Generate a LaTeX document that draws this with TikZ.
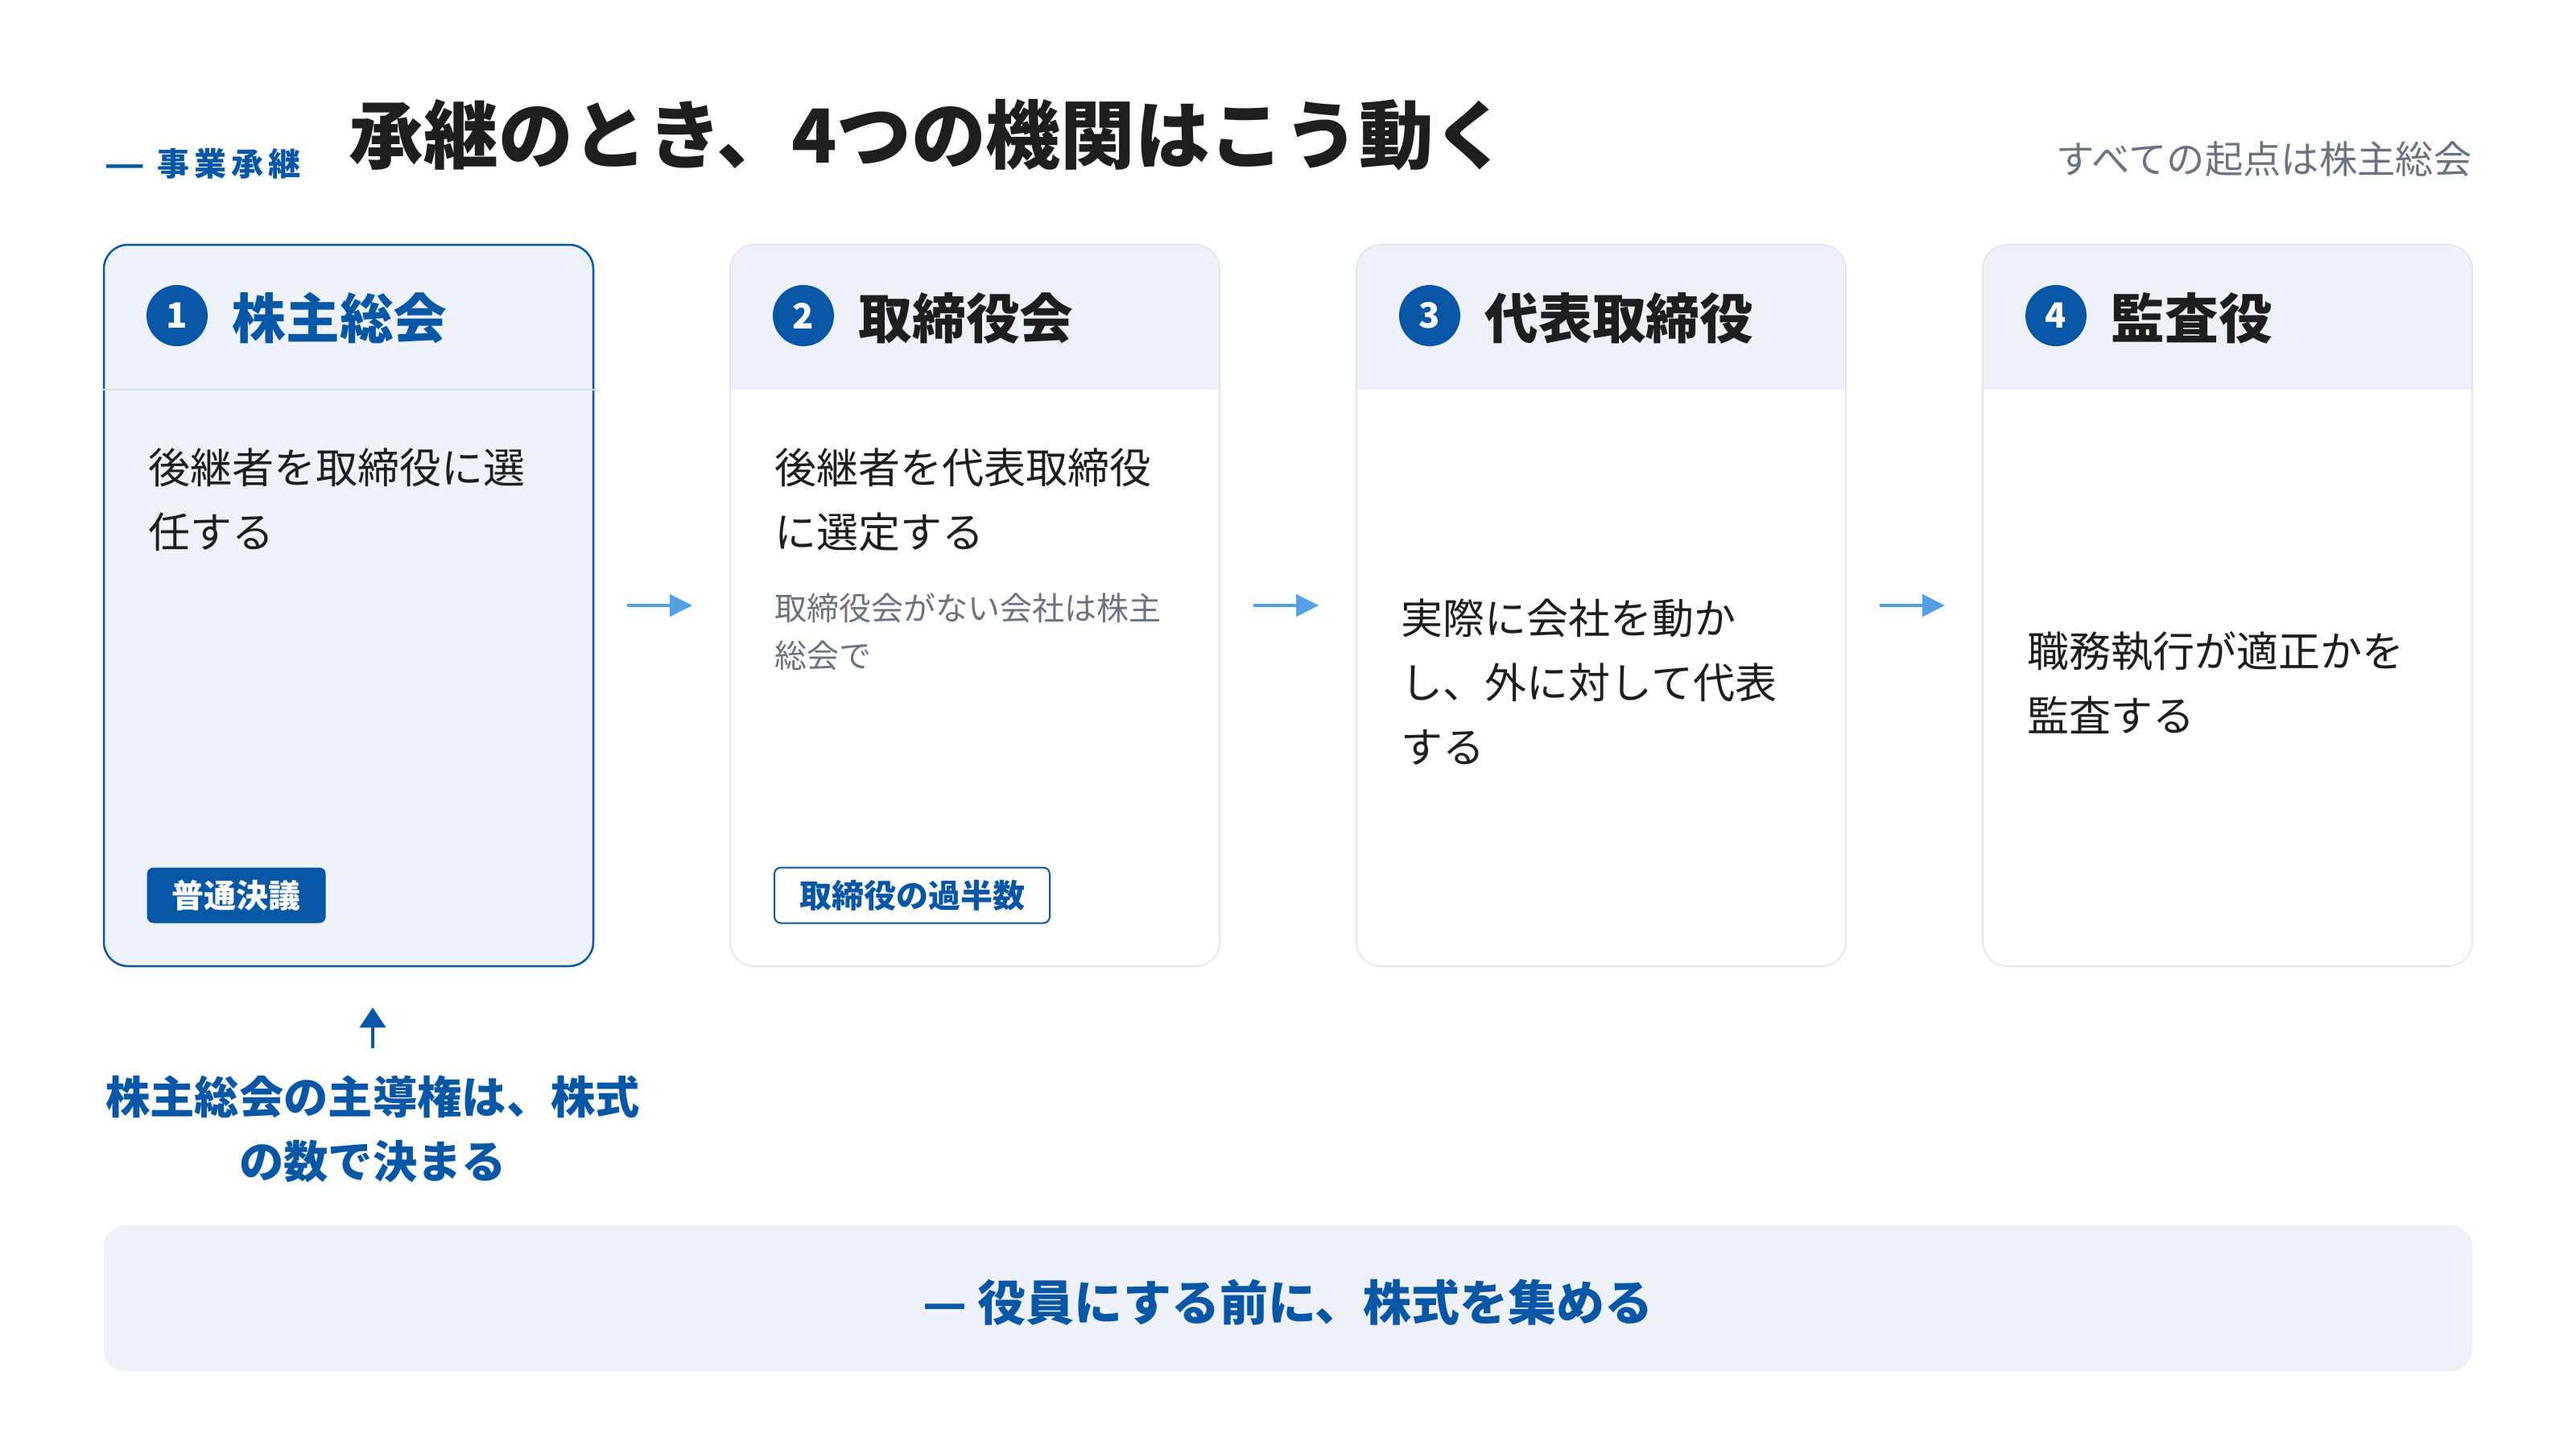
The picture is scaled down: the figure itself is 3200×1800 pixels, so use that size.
\documentclass[tikz,border=0pt]{standalone}
\usepackage{fontspec}
\usepackage{graphicx}
\setmainfont{Noto Sans CJK JP}
\usetikzlibrary{arrows.meta}
\definecolor{brand}{HTML}{0757A6}
\definecolor{lightarrow}{HTML}{559FE3}
\definecolor{ink}{HTML}{1E1E1E}
\definecolor{mute}{HTML}{6B7280}
\definecolor{headfill}{HTML}{EEF1F8}
\definecolor{card1fill}{HTML}{EEF2F9}
\definecolor{cardline}{HTML}{E3E5EA}
\definecolor{sepline}{HTML}{D6E0EE}
\tikzset{
  cardbase/.style={rectangle, rounded corners=9pt, minimum width=182.4pt, minimum height=268.8pt, inner sep=0pt},
  cardmain/.style={cardbase, draw=brand, line width=0.75pt, fill=card1fill},
  cardplain/.style={cardbase, draw=cardline, line width=0.5pt, fill=white,
    path picture={\fill[headfill, sharp corners] (path picture bounding box.north west) rectangle ([yshift=-54pt]path picture bounding box.north east);}},
  numdot/.style={circle, fill=brand, minimum size=22.8pt, inner sep=0pt, text=white, font=\fontsize{13}{13}\selectfont\bfseries},
  cardtitle/.style={anchor=base west, inner sep=0pt, font=\fontsize{20}{20}\selectfont\bfseries, text=ink},
  bodytext/.style={anchor=base west, inner sep=0pt, font=\fontsize{15.6}{15.6}\selectfont, text=ink},
  subtext/.style={anchor=base west, inner sep=0pt, font=\fontsize{12}{12}\selectfont, text=mute},
  tagfilled/.style={anchor=west, rectangle, rounded corners=2.4pt, fill=brand, text=white, minimum height=20.7pt, inner xsep=9.3pt, inner ysep=0pt, font=\fontsize{12}{12}\selectfont\bfseries},
  tagoutline/.style={anchor=west, rectangle, rounded corners=2.4pt, draw=brand, line width=0.6pt, fill=white, text=brand, minimum height=20.7pt, inner xsep=9.3pt, inner ysep=0pt, font=\fontsize{12}{12}\selectfont\bfseries},
  flow/.style={draw=lightarrow, line width=1.2pt, -{Triangle[length=8.4pt, width=8.1pt]}},
  uparrow/.style={draw=brand, line width=1.2pt, -{Triangle[length=7.5pt, width=9.6pt]}},
  notetext/.style={anchor=base, inner sep=0pt, font=\fontsize{16.6}{16.6}\selectfont\bfseries, text=brand},
}
\begin{document}
\begin{tikzpicture}[x=0.3pt, y=-0.3pt]
\useasboundingbox (0,0) rectangle (3200,1800);
\fill[white] (0,0) rectangle (3200,1800);

% header
\node[anchor=base west, inner sep=0pt, text=brand, font=\fontsize{12}{12}\selectfont\bfseries\addfontfeature{LetterSpace=15}] (kicker) at (129,218) {\scalebox{1.4}[1]{—}\hspace{4.5pt}事業承継};
\node[anchor=base west, inner sep=0pt, text=ink, font=\fontsize{27.8}{27.8}\selectfont\bfseries] (title) at (433,202) {承継のとき、4つの機関はこう動く};
\node[anchor=base east, inner sep=0pt, text=mute, font=\fontsize{14.2}{14.2}\selectfont] (subtitle) at (3071,215) {すべての起点は株主総会};

% cards
\node[cardmain] (c1) at (433,752) {};
\draw[sepline, line width=0.6pt] (c1.west |- 0,484) -- (c1.east |- 0,484);
\node[cardplain] (c2) at (1211,752) {};
\node[cardplain] (c3) at (1989,752) {};
\node[cardplain] (c4) at (2767,752) {};

% card 1
\node[numdot] (n1) at (220,392) {1};
\node[cardtitle, text=brand] (t1) at (288,420) {株主総会};
\node[bodytext] (b1a) at (184,600) {後継者を取締役に選};
\node[bodytext] (b1b) at (184,680) {任する};
\node[tagfilled] (g1) at (182,1112) {普通決議};

% card 2
\node[numdot] (n2) at (998,392) {2};
\node[cardtitle] (t2) at (1066,420) {取締役会};
\node[bodytext] (b2a) at (962,600) {後継者を代表取締役};
\node[bodytext] (b2b) at (962,680) {に選定する};
\node[subtext] (s2a) at (962,770) {取締役会がない会社は株主};
\node[subtext] (s2b) at (962,829) {総会で};
\node[tagoutline] (g2) at (961,1112) {取締役の過半数};

% card 3
\node[numdot] (n3) at (1776,392) {3};
\node[cardtitle] (t3) at (1844,420) {代表取締役};
\node[bodytext] (b3a) at (1740,787) {実際に会社を動か};
\node[bodytext] (b3b) at (1740,867) {し、外に対して代表};
\node[bodytext] (b3c) at (1740,947) {する};

% card 4
\node[numdot] (n4) at (2554,392) {4};
\node[cardtitle] (t4) at (2622,420) {監査役};
\node[bodytext] (b4a) at (2518,828) {職務執行が適正かを};
\node[bodytext] (b4b) at (2518,908) {監査する};

% flow arrows
\draw[flow, shorten <=12.3pt, shorten >=13.8pt] (c1.east) -- (c2.west);
\draw[flow, shorten <=12.3pt, shorten >=13.8pt] (c2.east) -- (c3.west);
\draw[flow, shorten <=12.3pt, shorten >=13.8pt] (c3.east) -- (c4.west);

% note under card 1
\coordinate (ua) at (463,1302);
\draw[uparrow, shorten >=15pt] (ua) -- (ua |- c1.south);
\node[notetext] (nt1) at (463,1383) {株主総会の主導権は、株式};
\node[notetext] (nt2) at (463,1463) {の数で決まる};

% bottom band
\node[rectangle, rounded corners=8pt, fill=headfill, minimum width=882.6pt, minimum height=54.3pt, inner sep=0pt] (band) at (1600,1612.5) {};
\node[anchor=base, inner sep=0pt, text=brand, font=\fontsize{18}{18}\selectfont\bfseries] (bandtext) at (1600,1640) {— 役員にする前に、株式を集める};
\end{tikzpicture}
\end{document}
